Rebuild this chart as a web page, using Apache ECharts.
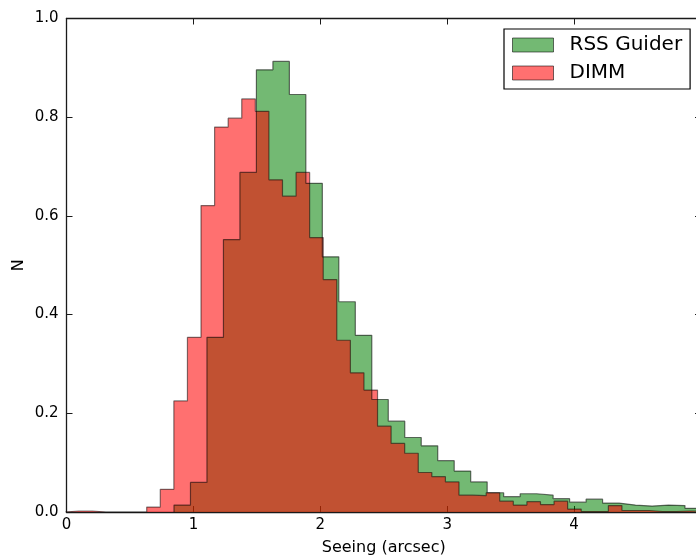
<!DOCTYPE html>
<html>
<head>
<meta charset="utf-8">
<script src="https://cdn.jsdelivr.net/npm/echarts@6/dist/echarts.min.js"></script>
<style>
html,body{margin:0;padding:0;background:#fff;}
#chart{width:696px;height:558px;}
</style>
</head>
<body>
<div id="chart"></div>
<script>
// Histogram bins (arcsec): start of first bin and bin width
const dimmStart = -0.01;
const dimmWidth = 0.107;
const dimmValues = [0.002, 0.002, 0, 0, 0, 0, 0.01, 0.046, 0.225, 0.354,
  0.621, 0.780, 0.798, 0.837, 0.812, 0.673, 0.640, 0.688, 0.556, 0.471,
  0.348, 0.282, 0.247, 0.174, 0.139, 0.119, 0.080, 0.0715, 0.061, 0.034,
  0.033, 0.039, 0.022, 0.014, 0.021, 0.015, 0.022, 0.006, 0.001, 0.001,
  0.013, 0.003, 0.003, 0.001, 0.001, 0.002, 0.002];

const rssStart = 0.847;
const rssWidth = 0.1299;
const rssValues = [0.014, 0.060, 0.354, 0.552, 0.688, 0.896, 0.913, 0.846, 0.666, 0.517,
  0.426, 0.358, 0.228, 0.184, 0.151, 0.134, 0.104, 0.083, 0.061, 0.039,
  0.031, 0.037, 0.034, 0.027, 0.020, 0.026, 0.018, 0.014, 0.012, 0.014,
  0.013, 0.0075];

const xTicks = [0, 1, 2, 3, 4, 5];
const yTicks = [0.0, 0.2, 0.4, 0.6, 0.8, 1.0];

function stepPoints(start, width, vals) {
  const pts = [[start, 0]];
  vals.forEach((v, i) => pts.push([start + i * width, v]));
  const end = start + vals.length * width;
  pts.push([end, vals[vals.length - 1]]);
  pts.push([end, 0]);
  return pts;
}

const FONT = 'DejaVu Sans';
const axisLineStyle = { color: '#1a1a1a', width: 1.3 };
const tick = { show: true, inside: true, length: 6, lineStyle: { color: '#1a1a1a', width: 1 } };

const chart = echarts.init(document.getElementById('chart'), null, { renderer: 'canvas' });
chart.setOption({
  animation: false,
  backgroundColor: '#ffffff',
  grid: { left: 66.5, width: 634.5, top: 18.5, height: 493.5, containLabel: false, outerBoundsMode: 'none' },
  legend: {
    left: 504, top: 29,
    orient: 'vertical',
    padding: [6, 8, 6, 8],
    itemGap: 8,
    itemWidth: 41, itemHeight: 14,
    icon: 'rect',
    borderColor: '#000', borderWidth: 1.2,
    backgroundColor: '#fff',
    textStyle: { fontFamily: FONT, fontSize: 20, color: '#000', padding: [0, 0, 0, 11] },
    data: [
      { name: 'RSS Guider', itemStyle: { color: 'rgba(0,128,0,0.55)', borderColor: 'rgba(0,0,0,0.55)', borderWidth: 1 } },
      { name: 'DIMM', itemStyle: { color: 'rgba(255,0,0,0.56)', borderColor: 'rgba(0,0,0,0.55)', borderWidth: 1 } }
    ]
  },
  xAxis: [
    {
      type: 'value', min: xTicks[0], max: xTicks[xTicks.length - 1], interval: 1, position: 'bottom',
      axisLine: { show: true, onZero: false, lineStyle: axisLineStyle },
      axisTick: tick, splitLine: { show: false },
      axisLabel: { fontFamily: FONT, fontSize: 15, color: '#000', margin: 6 },
      name: 'Seeing (arcsec)', nameLocation: 'middle', nameGap: 28,
      nameTextStyle: { fontFamily: FONT, fontSize: 16, color: '#000' }
    },
    {
      type: 'value', min: xTicks[0], max: xTicks[xTicks.length - 1], interval: 1, position: 'top',
      axisLine: { show: true, onZero: false, lineStyle: axisLineStyle },
      axisTick: tick, splitLine: { show: false }, axisLabel: { show: false }
    }
  ],
  yAxis: [
    {
      type: 'value', min: yTicks[0], max: yTicks[yTicks.length - 1], interval: 0.2, position: 'left',
      axisLine: { show: true, onZero: false, lineStyle: axisLineStyle },
      axisTick: tick, splitLine: { show: false },
      axisLabel: { fontFamily: FONT, fontSize: 15, color: '#000', margin: 8, formatter: v => v.toFixed(1) },
      name: 'N', nameLocation: 'middle', nameGap: 40, nameMoveOverlap: false,
      nameTextStyle: { fontFamily: FONT, fontSize: 16, color: '#000' }
    },
    {
      type: 'value', min: yTicks[0], max: yTicks[yTicks.length - 1], interval: 0.2, position: 'right',
      axisLine: { show: true, onZero: false, lineStyle: axisLineStyle },
      axisTick: tick, splitLine: { show: false }, axisLabel: { show: false }
    }
  ],
  series: [
    {
      name: 'RSS Guider', type: 'line', step: 'end', symbol: 'none',
      xAxisIndex: 0, yAxisIndex: 0,
      data: stepPoints(rssStart, rssWidth, rssValues),
      itemStyle: { color: 'rgba(0,128,0,0.55)' },
      lineStyle: { color: 'rgba(0,0,0,0.55)', width: 1.2 },
      areaStyle: { color: 'rgba(0,128,0,0.55)', opacity: 1 }
    },
    {
      name: 'DIMM', type: 'line', step: 'end', symbol: 'none',
      xAxisIndex: 0, yAxisIndex: 0,
      data: stepPoints(dimmStart, dimmWidth, dimmValues),
      itemStyle: { color: 'rgba(255,0,0,0.56)' },
      lineStyle: { color: 'rgba(0,0,0,0.5)', width: 1.2 },
      areaStyle: { color: 'rgba(255,0,0,0.56)', opacity: 1 }
    }
  ]
});
</script>
</body>
</html>
